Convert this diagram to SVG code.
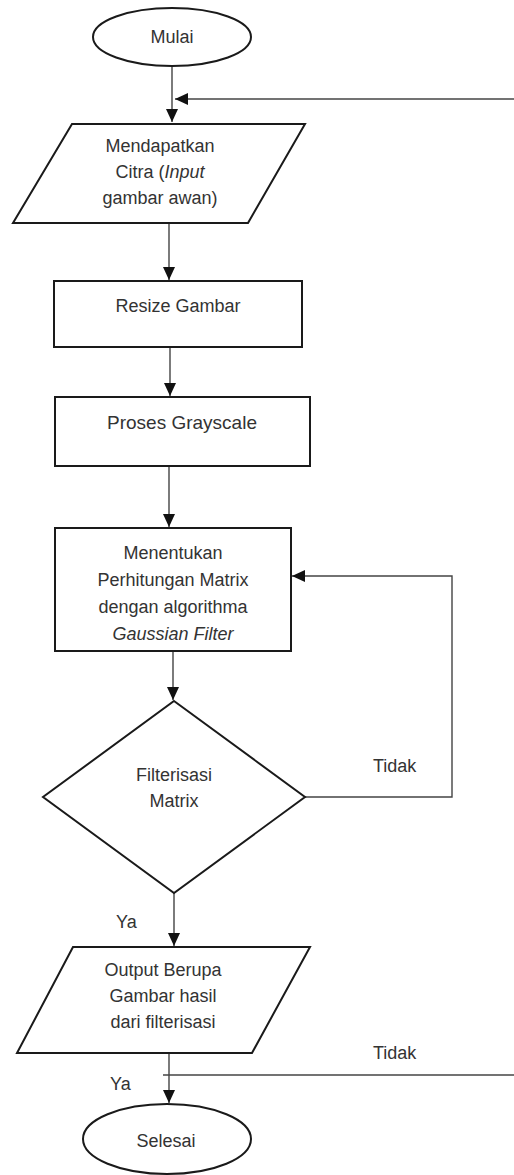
<svg xmlns="http://www.w3.org/2000/svg" width="514" height="1175" viewBox="0 0 514 1175">
<defs>
<style>
.shape{fill:#fff;stroke:#1a1a1a;stroke-width:2}
.con{fill:none;stroke:#444;stroke-width:1.4}
text{font-family:"Liberation Sans",Arial,sans-serif;font-size:18px;fill:#333;text-anchor:middle}
.it{font-style:italic}
.lbl{text-anchor:start}
</style>
<marker id="ah" markerUnits="userSpaceOnUse" markerWidth="14" markerHeight="12" refX="13" refY="6" orient="auto">
<path d="M0,0 L13,6 L0,12 z" fill="#111"/>
</marker>
</defs>
<rect width="514" height="1175" fill="#fff"/>
<g id="connectors">
<line class="con" x1="172" y1="66" x2="172" y2="122" marker-end="url(#ah)"/>
<line class="con" x1="514" y1="99" x2="175" y2="99" marker-end="url(#ah)"/>
<line class="con" x1="169" y1="223" x2="169" y2="280" marker-end="url(#ah)"/>
<line class="con" x1="170" y1="347" x2="170" y2="396" marker-end="url(#ah)"/>
<line class="con" x1="169" y1="466" x2="169" y2="527" marker-end="url(#ah)"/>
<line class="con" x1="173" y1="651" x2="173" y2="700" marker-end="url(#ah)"/>
<polyline class="con" points="305,797 452,797 452,576 292,576" marker-end="url(#ah)"/>
<line class="con" x1="174" y1="893" x2="174" y2="946" marker-end="url(#ah)"/>
<line class="con" x1="169" y1="1053" x2="169" y2="1103" marker-end="url(#ah)"/>
<line class="con" x1="163" y1="1075" x2="514" y2="1075"/>
<text class="lbl" x="373" y="772">Tidak</text>
<text class="lbl" x="116" y="928">Ya</text>
<text class="lbl" x="373" y="1059">Tidak</text>
<text class="lbl" x="110" y="1090">Ya</text>
</g>
<g id="mulai">
<ellipse class="shape" cx="172" cy="37" rx="79" ry="29"/>
<text x="172" y="43">Mulai</text>
</g>
<g id="input">
<polygon class="shape" points="72,124 305,124 248,223 13,223"/>
<text x="160" y="152">Mendapatkan</text>
<text x="160" y="178">Citra (<tspan class="it">Input</tspan></text>
<text x="160" y="204">gambar awan)</text>
</g>
<g id="resize">
<rect class="shape" x="54" y="281" width="248" height="66"/>
<text x="178" y="312">Resize Gambar</text>
</g>
<g id="grayscale">
<rect class="shape" x="55" y="397" width="255" height="69"/>
<text x="182" y="429" style="font-size:19px">Proses Grayscale</text>
</g>
<g id="gaussian">
<rect class="shape" x="55" y="528" width="236" height="123"/>
<text x="173" y="559">Menentukan</text>
<text x="173" y="586">Perhitungan Matrix</text>
<text x="173" y="613">dengan algorithma</text>
<text x="173" y="640" class="it">Gaussian Filter</text>
</g>
<g id="filterisasi">
<polygon class="shape" points="174,701 305,797 174,893 43,797"/>
<text x="174" y="781">Filterisasi</text>
<text x="174" y="807">Matrix</text>
</g>
<g id="output">
<polygon class="shape" points="73,947 310,947 252,1053 17,1053"/>
<text x="163" y="976">Output Berupa</text>
<text x="163" y="1002">Gambar hasil</text>
<text x="163" y="1028">dari filterisasi</text>
</g>
<g id="selesai">
<ellipse class="shape" cx="167" cy="1139" rx="84" ry="35"/>
<text x="166" y="1147">Selesai</text>
</g>
</svg>
